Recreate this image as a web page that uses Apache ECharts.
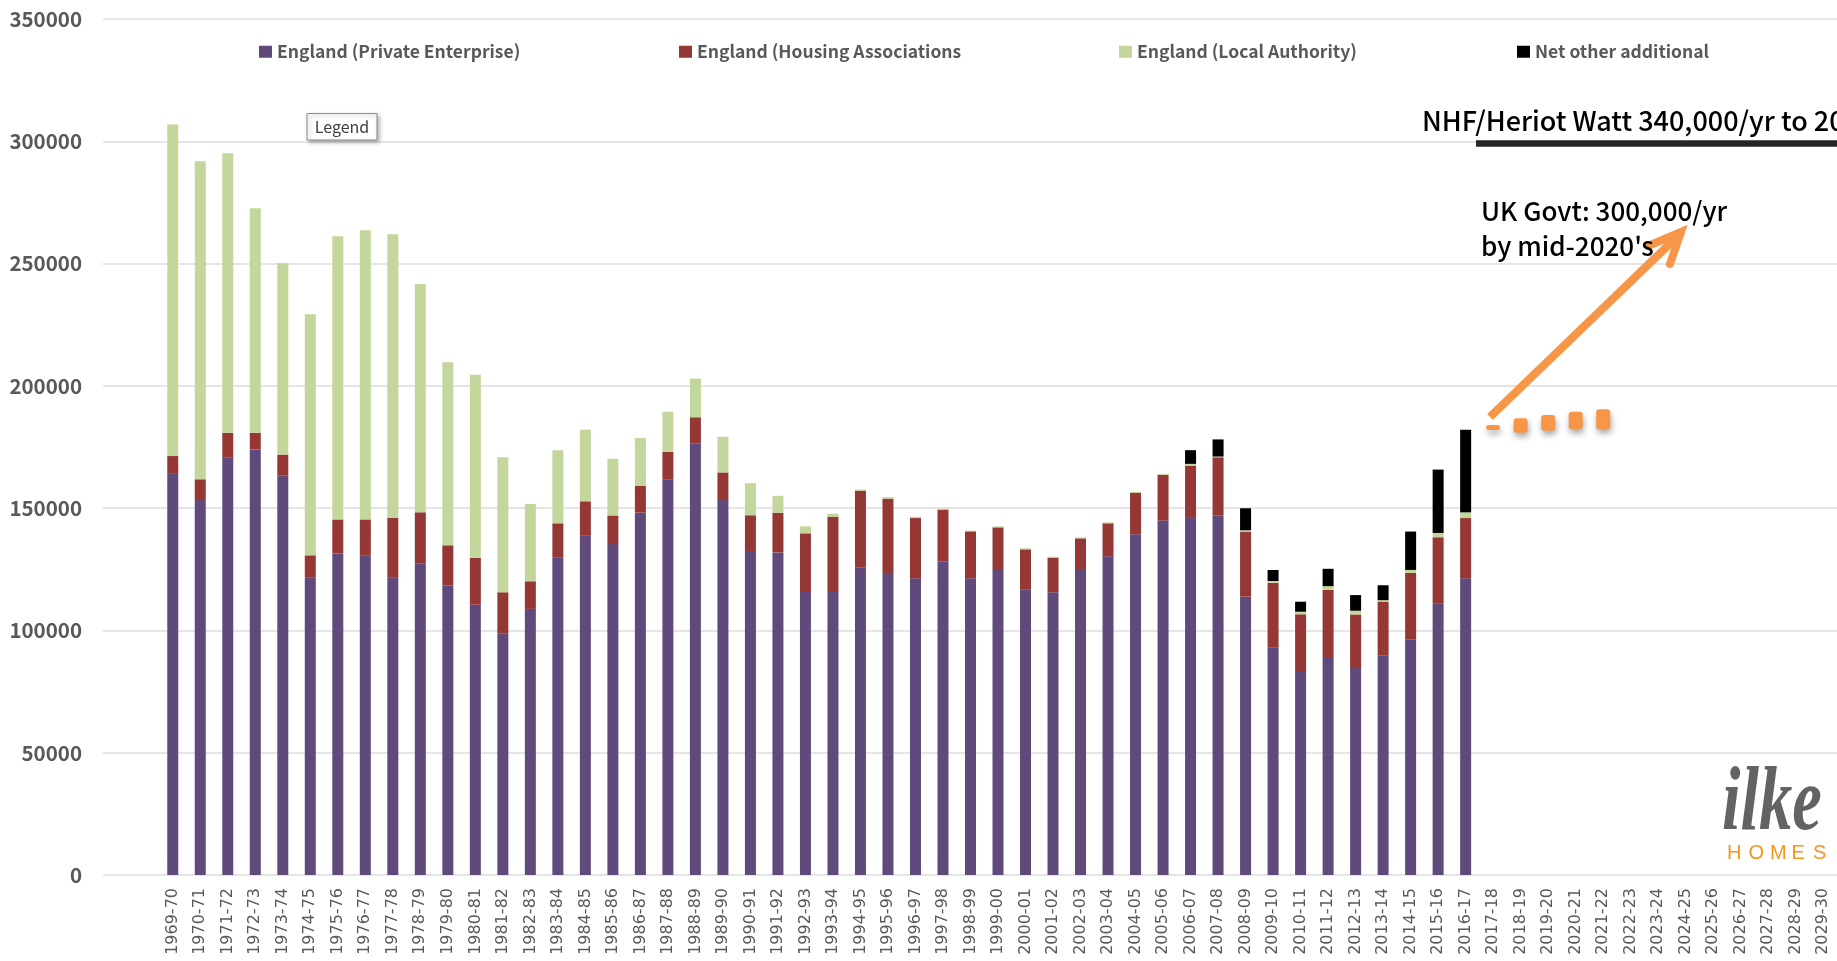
<!DOCTYPE html>
<html>
<head>
<meta charset="utf-8">
<script src="https://cdn.jsdelivr.net/npm/echarts@6/dist/echarts.min.js"></script>
<style>
html,body{margin:0;padding:0;background:#fff;}
#c{width:1837px;height:961px;}
</style>
</head>
<body>
<div id="c"></div>
<script>
const categories = ['1969-70','1970-71','1971-72','1972-73','1973-74','1974-75','1975-76','1976-77','1977-78','1978-79',
'1979-80','1980-81','1981-82','1982-83','1983-84','1984-85','1985-86','1986-87','1987-88','1988-89',
'1989-90','1990-91','1991-92','1992-93','1993-94','1994-95','1995-96','1996-97','1997-98','1998-99',
'1999-00','2000-01','2001-02','2002-03','2003-04','2004-05','2005-06','2006-07','2007-08','2008-09',
'2009-10','2010-11','2011-12','2012-13','2013-14','2014-15','2015-16','2016-17','2017-18','2018-19',
'2019-20','2020-21','2021-22','2022-23','2023-24','2024-25','2025-26','2026-27','2027-28','2028-29','2029-30'];

const privateEnterprise = [164000,153300,170600,174000,163300,121700,131400,130700,121700,127450,
118300,110500,98700,108800,129700,138700,135300,148150,161600,176400,
153700,132500,131900,116100,116100,125800,123500,121300,128100,121300,
124700,116800,115600,124700,130300,139300,144900,146000,147100,113800,
93100,83000,89100,84600,89700,96400,111100,121300];

const housingAssociations = [7300,8500,10200,6800,8600,9000,14000,14700,24300,20850,
16500,19200,16900,11300,14100,14100,11700,10900,11450,10770,
10900,14600,16200,23600,30400,31300,30400,24650,21300,19200,
17450,16350,14150,12950,13500,16900,18700,21400,23700,26600,
26400,23600,27500,21950,22100,27100,27000,24650];

const localAuthority = [135600,130000,114300,91800,78200,98550,115800,118200,116000,93350,
74830,74850,55200,31600,29850,29300,23150,19600,16350,15800,
14570,13080,6940,2860,1230,560,570,530,400,300,
400,400,400,400,400,400,400,700,300,550,
700,1050,1500,1500,570,1230,1760,2330];

const netOtherAdditional = [null,null,null,null,null,null,null,null,null,null,
null,null,null,null,null,null,null,null,null,null,
null,null,null,null,null,null,null,null,null,null,
null,null,null,null,null,null,null,5600,7000,9000,
4500,4100,7100,6400,6100,15700,25900,33770];

// projection marks (orange) for 2017-18 .. 2021-22 : low / high edge of each mark
const projCategories = ['2017-18','2018-19','2019-20','2020-21','2021-22'];
const projLow  = [181950,180850,181670,182240,182240];
const projHigh = [184000,186730,188080,189430,190410];

const yTicks = [0,50000,100000,150000,200000,250000,300000,350000];

const seriesNames = ['England (Private Enterprise)','England (Housing Associations','England (Local Authority)','Net other additional'];
const seriesColors = ['#604A7B','#953735','#C3D69B','#000000'];

const projBaseData = categories.map(c => { const i = projCategories.indexOf(c); return i < 0 ? null : projLow[i]; });
const projSizeData = categories.map(c => { const i = projCategories.indexOf(c); return i < 0 ? null : projHigh[i] - projLow[i]; });

const chart = echarts.init(document.getElementById('c'), null, {renderer:'canvas'});

const CJK = '"Noto Sans CJK SC", "Noto Sans", sans-serif';
const allData = [privateEnterprise, housingAssociations, localAuthority, netOtherAdditional];

const legendLefts = [259, 679, 1119, 1517];

const series = seriesNames.map((n, i) => ({
  name: n, type: 'bar', stack: 'total', xAxisIndex: 1, yAxisIndex: 1,
  barWidth: 11, data: allData[i], itemStyle: {color: seriesColors[i]},
  emphasis: {disabled: true}
}));
series.push({
  name: 'projBase', type: 'bar', stack: 'proj', xAxisIndex: 2, yAxisIndex: 1,
  barWidth: 14, data: projBaseData, itemStyle: {color: 'rgba(0,0,0,0)'}, silent: true
});
series.push({
  name: 'projection', type: 'bar', stack: 'proj', xAxisIndex: 2, yAxisIndex: 1,
  barWidth: 14, data: projSizeData,
  itemStyle: {color: '#F79646', borderRadius: 3, shadowBlur: 6, shadowColor: 'rgba(0,0,0,0.35)', shadowOffsetY: 4, shadowOffsetX: 1}
});

const legends = seriesNames.map((n, i) => ({
  data: [n], left: legendLefts[i], top: 43, padding: 0,
  icon: 'rect', itemWidth: 13, itemHeight: 12,
  textStyle: {fontFamily: CJK, fontWeight: 'bold', fontSize: 17.5, color: '#595959'},
  selectedMode: false
}));

const homes = 'HOMES';
const logoGraphics = homes.split('').map((ch, i) => ({
  type: 'text', x: 1727 + i * 21.5, y: 853, z: 100,
  style: {text: ch, fontFamily: '"Liberation Sans", sans-serif', fontSize: 20, fill: '#F7941D', verticalAlign: 'middle'}
}));

const option = {
  animation: false,
  backgroundColor: '#fff',
  legend: legends,
  grid: [
    {left: 103, right: -6, top: 19, bottom: 86, containLabel: false},
    {left: 159, right: -6, top: 19, bottom: 86, containLabel: false}
  ],
  xAxis: [
    {type: 'value', gridIndex: 0, show: false, min: 0, max: 1},
    {type: 'category', gridIndex: 1, data: categories,
     axisLine: {show: false}, axisTick: {show: false},
     axisLabel: {interval: 0, rotate: 90, margin: 13, fontFamily: '"DejaVu Sans", sans-serif', fontSize: 16, color: '#595959'}},
    {type: 'category', gridIndex: 1, data: categories, show: false}
  ],
  yAxis: [
    {type: 'value', gridIndex: 0, min: yTicks[0], max: yTicks[yTicks.length-1], interval: yTicks[1]-yTicks[0],
     axisLine: {show: false}, axisTick: {show: false},
     splitLine: {lineStyle: {color: '#DCDCDC', width: 1.5}},
     axisLabel: {margin: 21, fontFamily: CJK, fontWeight: 'bold', fontSize: 20.5, color: '#595959', formatter: v => String(v)}},
    {type: 'value', gridIndex: 1, min: yTicks[0], max: yTicks[yTicks.length-1], interval: yTicks[1]-yTicks[0], show: false,
     splitLine: {show: false}}
  ],
  series: series,
  graphic: [
    {type: 'rect', shape: {x: 307, y: 113.5, width: 70, height: 26.5},
     style: {fill: '#fff', stroke: '#8a8a8a', lineWidth: 1, shadowBlur: 4, shadowColor: 'rgba(0,0,0,0.3)', shadowOffsetX: 2, shadowOffsetY: 2}, z: 100},
    {type: 'text', x: 342, y: 127, z: 101,
     style: {text: 'Legend', fontFamily: CJK, fontSize: 16, fill: '#404040', align: 'center', verticalAlign: 'middle'}},
    {type: 'text', x: 1422, y: 121, z: 100,
     style: {text: 'NHF/Heriot Watt 340,000/yr to 2031', fontFamily: CJK, fontWeight: 500, fontSize: 27, fill: '#000', verticalAlign: 'middle'}},
    {type: 'line', z: 100, shape: {x1: 1476, y1: 143.5, x2: 1850, y2: 143.5}, style: {stroke: '#262626', lineWidth: 6.5}},
    {type: 'text', x: 1481, y: 211, z: 100,
     style: {text: 'UK Govt: 300,000/yr', fontFamily: CJK, fontWeight: 500, fontSize: 26, fill: '#000', verticalAlign: 'middle'}},
    {type: 'text', x: 1481, y: 246, z: 100,
     style: {text: "by mid-2020's", fontFamily: CJK, fontWeight: 500, fontSize: 26, fill: '#000', verticalAlign: 'middle'}},
    {type: 'line', z: 99, shape: {x1: 1490, y1: 417, x2: 1680, y2: 234}, style: {stroke: '#F79646', lineWidth: 8}},
    {type: 'polyline', z: 99, shape: {points: [[1648, 246], [1681, 232], [1670, 264]]}, style: {stroke: '#F79646', lineWidth: 8, lineCap: 'round', lineJoin: 'miter', fill: null}},
    {type: 'text', x: 1722, y: 761, scaleX: 0.74, z: 100,
     style: {text: 'ilke', fontFamily: '"Liberation Serif", serif', fontStyle: 'italic', fontWeight: 'bold', fontSize: 90, fill: '#636363', verticalAlign: 'top'}}
  ].concat(logoGraphics)
};

chart.setOption(option);
</script>
</body>
</html>
